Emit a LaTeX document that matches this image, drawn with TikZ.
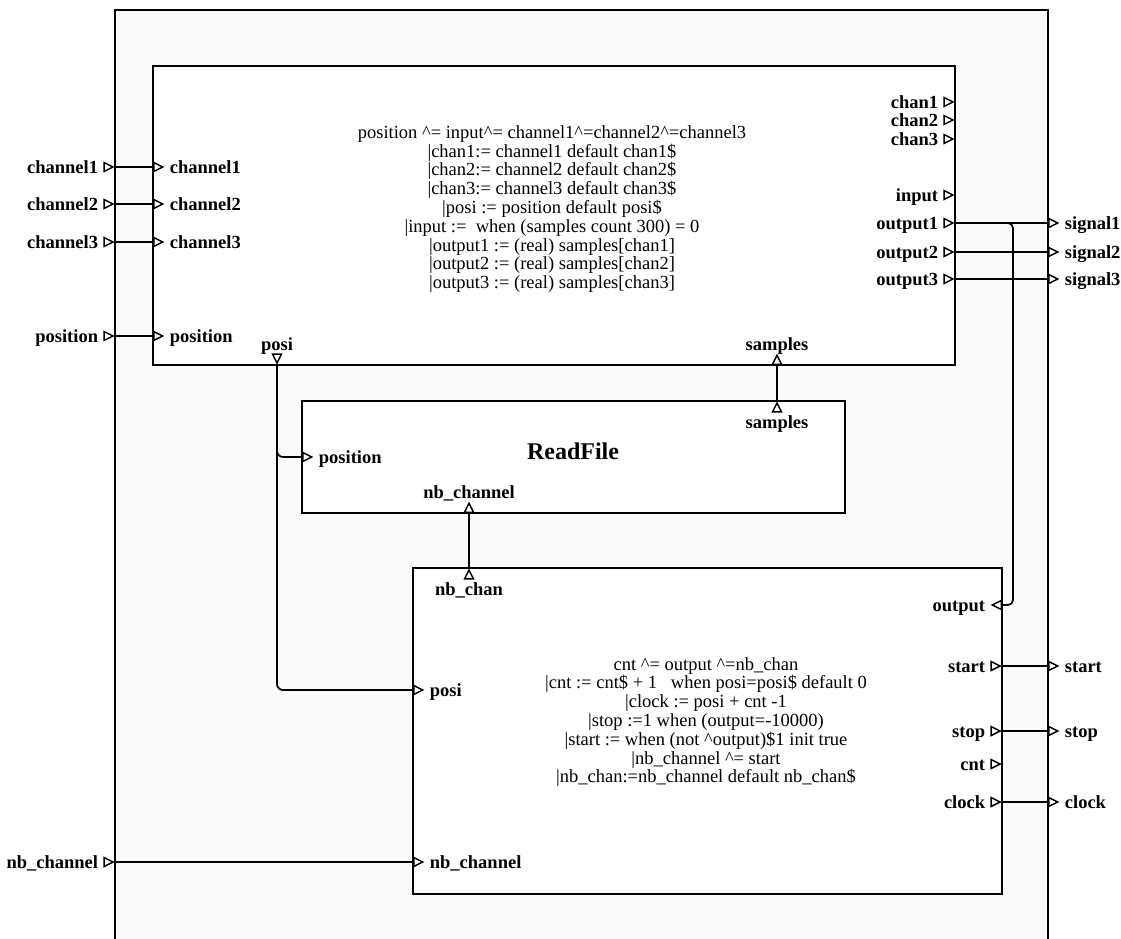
\documentclass[tikz,border=0pt]{standalone}
\usepackage{fontspec}
\setmainfont{Liberation Serif}
\usetikzlibrary{positioning,shapes.geometric}

\begin{document}
\begin{tikzpicture}[
    x=1pt,
    y=-1pt,
    font=\fontsize{18.5}{18.8}\selectfont,
    outer/.style={
        draw=black,
        line width=1.8pt,
        fill=black!2,
        minimum width=933pt,
        minimum height=960pt,
        inner sep=0pt
    },
    block/.style={
        draw=black,
        line width=1.8pt,
        fill=white,
        inner sep=0pt
    },
    port/.style={
        isosceles triangle,
        isosceles triangle stretches,
        draw=black,
        line width=1.5pt,
        fill=white,
        minimum width=9pt,
        minimum height=9pt,
        inner sep=0pt
    },
    pin/.style={
        font=\fontsize{18.5}{18.8}\selectfont\bfseries,
        inner sep=1pt,
        text height=12.6pt,
        text depth=0pt
    },
    code/.style={align=center, inner sep=0pt},
    wire/.style={line width=1.7pt}
]
\useasboundingbox (0,0) rectangle (1121,938);
\clip (0,0) rectangle (1121,938);

% enclosing process
\node[outer] (sys) at (581.5,490) {};

% the three sub-processes
\node[block, minimum width=802pt, minimum height=299pt] (mux) at (554,215.5) {};
\node[block, minimum width=543pt, minimum height=112pt] (rf) at (573.5,457) {};
\node[block, minimum width=589pt, minimum height=326pt] (ctl) at (707.5,731) {};

\node[code] (mux-eq) at (552,209)
{position \textasciicircum= input\textasciicircum= channel1\textasciicircum=channel2\textasciicircum=channel3\\
|chan1:= channel1 default chan1\$\\
|chan2:= channel2 default chan2\$\\
|chan3:= channel3 default chan3\$\\
|posi := position default posi\$\\
|input :=\ \ when (samples count 300) = 0\\
|output1 := (real) samples[chan1]\\
|output2 := (real) samples[chan2]\\
|output3 := (real) samples[chan3]};

\node[font=\fontsize{24}{26}\selectfont\bfseries] (rf-title) at (573,451) {ReadFile};

\node[code] (ctl-eq) at (706,722)
{cnt \textasciicircum= output \textasciicircum=nb\_chan\\
|cnt := cnt\$ + 1\ \ \ when posi=posi\$ default 0\\
|clock := posi + cnt -1\\
|stop :=1 when (output=-10000)\\
|start := when (not \textasciicircum output)\$1 init true\\
|nb\_channel \textasciicircum= start\\
|nb\_chan:=nb\_channel default nb\_chan\$};

% inputs of the enclosing process
\node[port, anchor=apex] (i-ch1) at (115,167) {};
\node[port, anchor=apex] (i-ch2) at (115,204) {};
\node[port, anchor=apex] (i-ch3) at (115,242) {};
\node[port, anchor=apex] (i-pos) at (115,336) {};
\node[port, anchor=apex] (i-nb) at (115,862) {};
\node[pin, left=4pt of i-ch1] (i-ch1-l) {channel1};
\node[pin, left=4pt of i-ch2] (i-ch2-l) {channel2};
\node[pin, left=4pt of i-ch3] (i-ch3-l) {channel3};
\node[pin, left=4pt of i-pos] (i-pos-l) {position};
\node[pin, left=4pt of i-nb] (i-nb-l) {nb\_channel};

% outputs of the enclosing process
\node[port, anchor=lower side] (o-sig1) at (1048,223) {};
\node[port, anchor=lower side] (o-sig2) at (1048,252) {};
\node[port, anchor=lower side] (o-sig3) at (1048,279) {};
\node[port, anchor=lower side] (o-start) at (1048,666) {};
\node[port, anchor=lower side] (o-stop) at (1048,731) {};
\node[port, anchor=lower side] (o-clock) at (1048,802) {};
\node[pin, right=4pt of o-sig1] (o-sig1-l) {signal1};
\node[pin, right=4pt of o-sig2] (o-sig2-l) {signal2};
\node[pin, right=4pt of o-sig3] (o-sig3-l) {signal3};
\node[pin, right=4pt of o-start] (o-start-l) {start};
\node[pin, right=4pt of o-stop] (o-stop-l) {stop};
\node[pin, right=4pt of o-clock] (o-clock-l) {clock};

% ports of the channel selector
\node[port, anchor=lower side] (m-ch1) at (153,167) {};
\node[port, anchor=lower side] (m-ch2) at (153,204) {};
\node[port, anchor=lower side] (m-ch3) at (153,242) {};
\node[port, anchor=lower side] (m-pos) at (153,336) {};
\node[pin, right=4pt of m-ch1] (m-ch1-l) {channel1};
\node[pin, right=4pt of m-ch2] (m-ch2-l) {channel2};
\node[pin, right=4pt of m-ch3] (m-ch3-l) {channel3};
\node[pin, right=4pt of m-pos] (m-pos-l) {position};

\node[port, anchor=apex] (m-c1) at (955,102) {};
\node[port, anchor=apex] (m-c2) at (955,120) {};
\node[port, anchor=apex] (m-c3) at (955,139) {};
\node[port, anchor=apex] (m-in) at (955,195) {};
\node[port, anchor=apex] (m-out1) at (955,223) {};
\node[port, anchor=apex] (m-out2) at (955,252) {};
\node[port, anchor=apex] (m-out3) at (955,279) {};
\node[pin, left=4pt of m-c1] (m-c1-l) {chan1};
\node[pin, left=4pt of m-c2] (m-c2-l) {chan2};
\node[pin, left=4pt of m-c3] (m-c3-l) {chan3};
\node[pin, left=4pt of m-in] (m-in-l) {input};
\node[pin, left=4pt of m-out1] (m-out1-l) {output1};
\node[pin, left=4pt of m-out2] (m-out2-l) {output2};
\node[pin, left=4pt of m-out3] (m-out3-l) {output3};

\node[port, shape border rotate=270, anchor=apex] (m-posi) at (277,365) {};
\node[port, shape border rotate=90, anchor=lower side] (m-smp) at (777,365) {};
\node[pin, above=2pt of m-posi] (m-posi-l) {posi};
\node[pin, above=2pt of m-smp] (m-smp-l) {samples};

% ports of ReadFile
\node[port, shape border rotate=90, anchor=apex] (r-smp) at (777,401) {};
\node[port, anchor=lower side] (r-pos) at (302,457) {};
\node[port, shape border rotate=90, anchor=lower side] (r-nb) at (469,513) {};
\node[pin, below=2pt of r-smp] (r-smp-l) {samples};
\node[pin, right=4pt of r-pos] (r-pos-l) {position};
\node[pin, above=2pt of r-nb] (r-nb-l) {nb\_channel};

% ports of the controller
\node[port, shape border rotate=90, anchor=apex] (c-nb) at (469,568) {};
\node[port, anchor=lower side] (c-posi) at (413,690) {};
\node[port, anchor=lower side] (c-nbch) at (413,862) {};
\node[port, shape border rotate=180, anchor=lower side] (c-out) at (1002,605) {};
\node[port, anchor=apex] (c-start) at (1002,666) {};
\node[port, anchor=apex] (c-stop) at (1002,731) {};
\node[port, anchor=apex] (c-cnt) at (1002,764) {};
\node[port, anchor=apex] (c-clock) at (1002,802) {};
\node[pin, below=2pt of c-nb] (c-nb-l) {nb\_chan};
\node[pin, right=4pt of c-posi] (c-posi-l) {posi};
\node[pin, right=4pt of c-nbch] (c-nbch-l) {nb\_channel};
\node[pin, left=4pt of c-out] (c-out-l) {output};
\node[pin, left=4pt of c-start] (c-start-l) {start};
\node[pin, left=4pt of c-stop] (c-stop-l) {stop};
\node[pin, left=4pt of c-cnt] (c-cnt-l) {cnt};
\node[pin, left=4pt of c-clock] (c-clock-l) {clock};

% wiring
\draw[wire] (i-ch1.apex) -- (m-ch1.lower side);
\draw[wire] (i-ch2.apex) -- (m-ch2.lower side);
\draw[wire] (i-ch3.apex) -- (m-ch3.lower side);
\draw[wire] (i-pos.apex) -- (m-pos.lower side);
\draw[wire] (i-nb.apex) -- (c-nbch.lower side);

\draw[wire] (m-out1.apex) -- (o-sig1.lower side);
\draw[wire] (m-out2.apex) -- (o-sig2.lower side);
\draw[wire] (m-out3.apex) -- (o-sig3.lower side);
\coordinate (fb) at (1013,400);
\draw[wire, rounded corners=5pt] (m-out1.apex) -| (fb) |- (c-out.lower side);

\draw[wire, rounded corners=6pt] (m-posi.apex) |- (c-posi.lower side);
\draw[wire, rounded corners=6pt] (m-posi.apex) |- (r-pos.lower side);
\draw[wire] (r-smp.apex) -- (m-smp.lower side);
\draw[wire] (c-nb.apex) -- (r-nb.lower side);

\draw[wire] (c-start.apex) -- (o-start.lower side);
\draw[wire] (c-stop.apex) -- (o-stop.lower side);
\draw[wire] (c-clock.apex) -- (o-clock.lower side);

\end{tikzpicture}
\end{document}
